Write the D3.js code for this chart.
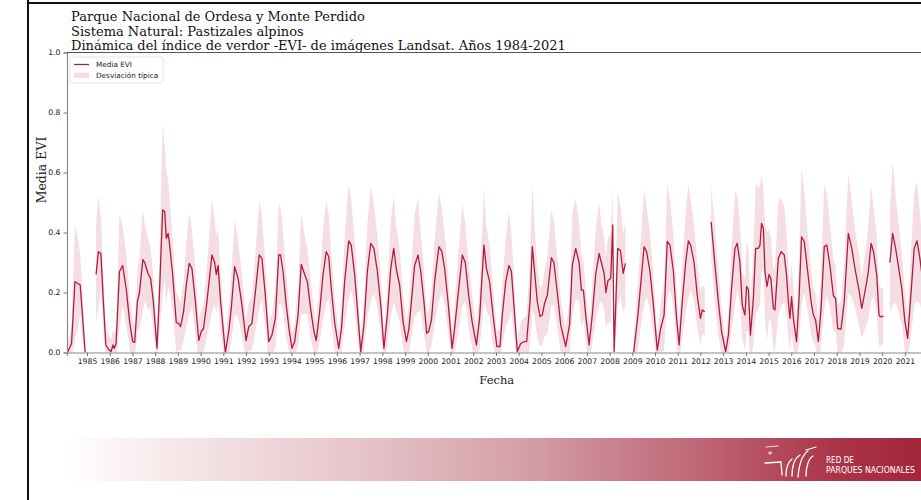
<!DOCTYPE html>
<html>
<head>
<meta charset="utf-8">
<script src="https://cdn.jsdelivr.net/npm/d3@7"></script>
<style>
  body { margin: 0; background: #fff; }
  svg { display: block; }
</style>
</head>
<body>
<div id="chart"></div>
<script>
// Titles
const titulo = [
  'Parque Nacional de Ordesa y Monte Perdido',
  'Sistema Natural: Pastizales alpinos',
  'Dinámica del índice de verdor -EVI- de imágenes Landsat. Años 1984-2021'
];

// Dates as decimal years, null in the series marks a gap
const fechas = [
  1984.14, 1984.32, 1984.47, 1984.60, 1984.70, 1984.80, 1984.92, 1985.15,
  1985.40, 1985.50, 1985.61, 1985.72, 1985.83, 1985.95, 1986.06, 1986.14, 1986.20, 1986.28,
  1986.43, 1986.57, 1986.73, 1986.88, 1987.01, 1987.10, 1987.22, 1987.31, 1987.46, 1987.54,
  1987.68, 1987.80, 1987.92, 1988.08, 1988.18, 1988.33, 1988.42, 1988.49, 1988.57, 1988.62,
  1988.77, 1988.93, 1989.03, 1989.12, 1989.25, 1989.37, 1989.50, 1989.62, 1989.77, 1989.92,
  1990.03, 1990.13, 1990.28, 1990.50, 1990.62, 1990.69, 1990.77, 1990.88, 1991.09, 1991.24,
  1991.35, 1991.50, 1991.65, 1991.82, 1992.00, 1992.12, 1992.26, 1992.41, 1992.58, 1992.70,
  1992.85, 1993.00, 1993.14, 1993.29, 1993.44, 1993.52, 1993.63, 1993.77, 1993.89, 1994.02,
  1994.14, 1994.29, 1994.43, 1994.58, 1994.70, 1994.84, 1994.99, 1995.09, 1995.24, 1995.39,
  1995.53, 1995.64, 1995.75, 1995.90, 1996.08, 1996.20, 1996.34, 1996.52, 1996.63, 1996.78,
  1996.90, 1997.05, 1997.19, 1997.34, 1997.49, 1997.63, 1997.78, 1997.93, 1998.07, 1998.22,
  1998.37, 1998.50, 1998.61, 1998.76, 1998.91, 1999.06, 1999.17, 1999.28, 1999.42, 1999.57,
  1999.69, 1999.83, 1999.95, 2000.04, 2000.16, 2000.30, 2000.49, 2000.62, 2000.74, 2000.89,
  2001.07, 2001.18, 2001.33, 2001.52, 2001.65, 2001.80, 2001.95, 2002.14, 2002.28, 2002.47,
  2002.58, 2002.72, 2002.87, 2003.04, 2003.18, 2003.28, 2003.43, 2003.57, 2003.68, 2003.79,
  2003.94, 2004.09, 2004.23, 2004.35, 2004.50, 2004.60, 2004.70, 2004.82, 2004.94, 2005.04,
  2005.14, 2005.26, 2005.44, 2005.55, 2005.70, 2005.85, 2006.07, 2006.24, 2006.36, 2006.51,
  2006.66, 2006.76, 2006.85, 2006.95, 2007.10, 2007.24, 2007.39, 2007.54, 2007.64, 2007.76,
  2007.84, 2007.93, 2008.05, 2008.14, 2008.20, 2008.36, 2008.48, 2008.60, 2008.70, 2008.85,
  2009.06, 2009.25, 2009.52, 2009.63, 2009.78, 2009.93, 2010.10, 2010.25, 2010.40, 2010.54,
  2010.66, 2010.81, 2010.95, 2011.06, 2011.20, 2011.35, 2011.47, 2011.57, 2011.72, 2011.86,
  2012.00, 2012.08, 2012.19, 2012.32, 2012.47, 2012.64, 2012.79, 2012.93, 2013.11, 2013.23,
  2013.37, 2013.52, 2013.62, 2013.74, 2013.84, 2013.96, 2014.03, 2014.11, 2014.20, 2014.33,
  2014.43, 2014.55, 2014.62, 2014.69, 2014.77, 2014.84, 2014.93, 2015.02, 2015.10, 2015.21,
  2015.28, 2015.43, 2015.55, 2015.69, 2015.79, 2015.87, 2015.94, 2016.01, 2016.09, 2016.23,
  2016.34, 2016.45, 2016.57, 2016.72, 2016.87, 2016.97, 2017.07, 2017.19, 2017.31, 2017.45,
  2017.56, 2017.70, 2017.85, 2017.95, 2018.04, 2018.19, 2018.33, 2018.51, 2018.66, 2018.80,
  2018.98, 2019.10, 2019.21, 2019.32, 2019.39, 2019.51, 2019.62, 2019.76, 2019.86, 2019.90,
  2020.05, 2020.20, 2020.34, 2020.46, 2020.59, 2020.71, 2020.86, 2021.00, 2021.12, 2021.27,
  2021.41, 2021.53, 2021.66, 2021.78, 2021.90
];

const mediaEVI = [
  0.000, 0.030, 0.236, 0.230, 0.225, 0.125, 0.000, null,
  0.260, 0.336, 0.330, 0.170, 0.025, 0.010, 0.003, 0.025, 0.014, 0.030,
  0.270, 0.290, 0.210, 0.100, 0.036, 0.034, 0.170, 0.200, 0.310, 0.300,
  0.264, 0.247, 0.170, 0.014, 0.180, 0.475, 0.470, 0.380, 0.397, 0.370,
  0.260, 0.100, 0.097, 0.086, 0.136, 0.225, 0.297, 0.280, 0.170, 0.040,
  0.070, 0.080, 0.170, 0.325, 0.300, 0.260, 0.290, 0.170, 0.000, 0.070,
  0.147, 0.286, 0.247, 0.158, 0.040, 0.086, 0.097, 0.200, 0.325, 0.314,
  0.190, 0.036, 0.058, 0.114, 0.325, 0.325, 0.270, 0.158, 0.080, 0.014,
  0.036, 0.125, 0.294, 0.260, 0.236, 0.147, 0.070, 0.040, 0.136, 0.260,
  0.336, 0.320, 0.214, 0.100, 0.014, 0.080, 0.236, 0.372, 0.358, 0.260,
  0.147, 0.003, 0.092, 0.270, 0.364, 0.347, 0.270, 0.158, 0.014, 0.125,
  0.280, 0.347, 0.280, 0.225, 0.103, 0.036, 0.080, 0.170, 0.290, 0.325,
  0.270, 0.170, 0.064, 0.070, 0.108, 0.236, 0.353, 0.336, 0.280, 0.170,
  0.014, 0.080, 0.190, 0.325, 0.300, 0.190, 0.103, 0.025, 0.114, 0.358,
  0.280, 0.236, 0.125, 0.020, 0.020, 0.125, 0.236, 0.290, 0.270, 0.158,
  0.003, 0.030, 0.036, 0.036, 0.170, 0.353, 0.270, 0.170, 0.120, 0.125,
  0.164, 0.190, 0.316, 0.300, 0.200, 0.092, 0.020, 0.092, 0.290, 0.347,
  0.300, 0.208, 0.208, 0.125, 0.025, 0.125, 0.260, 0.330, 0.300, 0.264,
  0.200, 0.240, 0.247, 0.425, 0.003, 0.347, 0.340, 0.264, 0.297, null,
  0.000, 0.125, 0.353, 0.336, 0.270, 0.158, 0.008, 0.080, 0.125, 0.370,
  0.358, 0.270, 0.114, 0.025, 0.170, 0.300, 0.372, 0.358, 0.300, 0.190,
  0.114, 0.142, 0.136, null, 0.436, 0.290, 0.170, 0.070, 0.003, 0.058,
  0.214, 0.347, 0.364, 0.300, 0.158, 0.125, 0.220, 0.210, 0.058, 0.180,
  0.347, 0.347, 0.358, 0.430, 0.414, 0.270, 0.220, 0.260, 0.247, 0.147,
  0.142, 0.314, 0.336, 0.325, 0.258, 0.170, 0.114, 0.186, 0.114, 0.036,
  0.180, 0.386, 0.370, 0.270, 0.170, 0.125, 0.108, 0.036, 0.147, 0.353,
  0.358, 0.290, 0.190, 0.180, 0.080, 0.078, 0.170, 0.397, 0.347, 0.280,
  0.208, 0.147, 0.190, 0.236, 0.270, 0.364, 0.336, 0.258, 0.125, 0.120,
  0.120, null, 0.300, 0.397, 0.347, 0.290, 0.214, 0.103, 0.047, 0.200,
  0.347, 0.372, 0.314, 0.240, 0.150
];

const desviacion = [
  0.02, 0.06, 0.19, 0.15, 0.10, 0.08, 0.03, null,
  0.16, 0.19, 0.12, 0.10, 0.06, 0.05, 0.04, 0.05, 0.05, 0.06,
  0.19, 0.13, 0.12, 0.09, 0.07, 0.06, 0.10, 0.12, 0.17, 0.13,
  0.12, 0.10, 0.09, 0.05, 0.12, 0.29, 0.22, 0.22, 0.18, 0.16,
  0.12, 0.10, 0.09, 0.08, 0.10, 0.14, 0.17, 0.13, 0.11, 0.07,
  0.07, 0.08, 0.12, 0.19, 0.14, 0.13, 0.12, 0.10, 0.05, 0.08,
  0.11, 0.16, 0.13, 0.10, 0.07, 0.08, 0.09, 0.13, 0.18, 0.14,
  0.11, 0.07, 0.07, 0.10, 0.17, 0.16, 0.13, 0.11, 0.08, 0.05,
  0.06, 0.10, 0.17, 0.13, 0.11, 0.10, 0.07, 0.06, 0.10, 0.15,
  0.17, 0.14, 0.12, 0.09, 0.05, 0.08, 0.15, 0.19, 0.15, 0.12,
  0.10, 0.04, 0.08, 0.16, 0.19, 0.15, 0.12, 0.10, 0.05, 0.10,
  0.16, 0.18, 0.14, 0.12, 0.09, 0.06, 0.08, 0.12, 0.17, 0.19,
  0.13, 0.11, 0.07, 0.07, 0.09, 0.14, 0.18, 0.14, 0.12, 0.10,
  0.05, 0.08, 0.13, 0.17, 0.13, 0.11, 0.09, 0.06, 0.10, 0.19,
  0.14, 0.12, 0.10, 0.05, 0.06, 0.10, 0.15, 0.18, 0.13, 0.10,
  0.04, 0.07, 0.08, 0.09, 0.14, 0.21, 0.15, 0.12, 0.10, 0.10,
  0.11, 0.13, 0.16, 0.14, 0.12, 0.09, 0.06, 0.09, 0.17, 0.17,
  0.13, 0.12, 0.10, 0.09, 0.06, 0.10, 0.15, 0.17, 0.13, 0.12,
  0.12, 0.14, 0.15, 0.13, 0.04, 0.19, 0.15, 0.13, 0.14, null,
  0.05, 0.11, 0.19, 0.15, 0.13, 0.10, 0.05, 0.08, 0.12, 0.19,
  0.15, 0.12, 0.09, 0.06, 0.12, 0.17, 0.19, 0.15, 0.13, 0.11,
  0.09, 0.08, 0.08, null, 0.12, 0.13, 0.11, 0.08, 0.04, 0.07,
  0.14, 0.19, 0.16, 0.13, 0.11, 0.12, 0.15, 0.14, 0.10, 0.15,
  0.22, 0.20, 0.20, 0.16, 0.14, 0.16, 0.18, 0.15, 0.14, 0.13,
  0.14, 0.19, 0.18, 0.16, 0.14, 0.12, 0.11, 0.12, 0.10, 0.07,
  0.14, 0.23, 0.17, 0.13, 0.11, 0.09, 0.09, 0.07, 0.12, 0.21,
  0.17, 0.14, 0.12, 0.11, 0.08, 0.09, 0.14, 0.20, 0.16, 0.13,
  0.12, 0.10, 0.12, 0.14, 0.16, 0.19, 0.15, 0.13, 0.10, 0.10,
  0.09, null, 0.17, 0.24, 0.18, 0.15, 0.12, 0.10, 0.07, 0.14,
  0.19, 0.20, 0.15, 0.12, 0.10
];

// Tick labels
const anios = [1985, 1986, 1987, 1988, 1989, 1990, 1991, 1992, 1993, 1994, 1995, 1996,
  1997, 1998, 1999, 2000, 2001, 2002, 2003, 2004, 2005, 2006, 2007, 2008, 2009, 2010,
  2011, 2012, 2013, 2014, 2015, 2016, 2017, 2018, 2019, 2020, 2021];
const yTicks = [0, 0.2, 0.4, 0.6, 0.8, 1.0];

const W = 921, H = 500;
const margin = { top: 52.5, left: 67 };
const plotW = 859.5, plotH = 300;
const colorLinea = '#b01c3e';
const serif = 'DejaVu Serif';
const sans = 'DejaVu Sans';

const svg = d3.select('#chart')
  .append('svg')
  .attr('width', W)
  .attr('height', H);

// Screenshot frame
svg.append('line').attr('x1', 28).attr('x2', 28).attr('y1', 0).attr('y2', H)
  .attr('stroke', '#111').attr('stroke-width', 2);
svg.append('line').attr('x1', 28).attr('x2', W).attr('y1', 3).attr('y2', 3)
  .attr('stroke', '#111').attr('stroke-width', 2);

// Titles
svg.selectAll('.titulo')
  .data(titulo)
  .enter()
  .append('text')
  .attr('class', 'titulo')
  .attr('x', 71)
  .attr('y', (d, i) => 21 + i * 14.6)
  .style('font-family', serif)
  .style('font-size', '13px')
  .attr('fill', '#111')
  .text(d => d);

const g = svg.append('g')
  .attr('transform', `translate(${margin.left},${margin.top})`);

const x = d3.scaleLinear().domain([1984.12, 2021.95]).range([0, plotW]);
const y = d3.scaleLinear().domain([0, 1]).range([plotH, 0]);

g.append('clipPath').attr('id', 'clip')
  .append('rect').attr('width', plotW).attr('height', plotH);

const datos = fechas.map((f, i) => ({ f, m: mediaEVI[i], s: desviacion[i] }));

// Standard deviation band
const banda = d3.area()
  .defined(d => d.m !== null)
  .x(d => x(d.f))
  .y0(d => y(d.m - d.s))
  .y1(d => y(d.m + d.s));

g.append('path')
  .datum(datos)
  .attr('clip-path', 'url(#clip)')
  .attr('fill', '#c8506a')
  .attr('fill-opacity', 0.19)
  .attr('d', banda);

// Mean line
const linea = d3.line()
  .defined(d => d.m !== null)
  .x(d => x(d.f))
  .y(d => y(d.m));

g.append('path')
  .datum(datos)
  .attr('clip-path', 'url(#clip)')
  .attr('fill', 'none')
  .attr('stroke', colorLinea)
  .attr('stroke-width', 1.3)
  .attr('stroke-linejoin', 'round')
  .attr('d', linea);

// Axes
const ejeX = g.append('g')
  .attr('transform', `translate(0,${plotH})`)
  .call(d3.axisBottom(x).tickValues(anios).tickFormat(d3.format('d')).tickSize(3.5).tickPadding(3));
const ejeY = g.append('g')
  .call(d3.axisLeft(y).tickValues(yTicks).tickFormat(d3.format('.1f')).tickSize(3.5).tickPadding(3));

[ejeX, ejeY].forEach(eje => {
  eje.select('.domain').attr('stroke', '#8a8a8a').attr('stroke-width', 1.2);
  eje.selectAll('.tick line').attr('stroke', '#777');
  eje.selectAll('.tick text')
    .style('font-family', sans)
    .style('font-size', '7.7px')
    .attr('fill', '#222');
});

// top spine
g.append('line').attr('x1', 0).attr('x2', plotW).attr('y1', 0).attr('y2', 0)
  .attr('stroke', '#555').attr('stroke-width', 1.2);

// Axis labels
g.append('text')
  .attr('x', plotW / 2)
  .attr('y', plotH + 31)
  .attr('text-anchor', 'middle')
  .style('font-family', serif)
  .style('font-size', '11.5px')
  .attr('fill', '#222')
  .text('Fecha');

g.append('text')
  .attr('transform', 'rotate(-90)')
  .attr('x', -(170 - margin.top))
  .attr('y', -21)
  .attr('text-anchor', 'middle')
  .style('font-family', serif)
  .style('font-size', '12.5px')
  .attr('fill', '#222')
  .text('Media EVI');

// Legend
const leg = g.append('g').attr('transform', 'translate(3,4.5)');
leg.append('rect')
  .attr('width', 93).attr('height', 26).attr('rx', 2)
  .attr('fill', '#fff').attr('stroke', '#ddd').attr('stroke-width', 0.8);
leg.append('line').attr('x1', 4).attr('x2', 19).attr('y1', 7.5).attr('y2', 7.5)
  .attr('stroke', colorLinea).attr('stroke-width', 1.3);
leg.append('rect').attr('x', 4).attr('y', 15.5).attr('width', 15).attr('height', 5.5)
  .attr('fill', '#c8506a').attr('fill-opacity', 0.19);
leg.selectAll('.leg-text')
  .data(['Media EVI', 'Desviación típica'])
  .enter()
  .append('text')
  .attr('x', 26)
  .attr('y', (d, i) => 10 + i * 10.5)
  .style('font-family', sans)
  .style('font-size', '7.3px')
  .attr('fill', '#222')
  .text(d => d);

// Bottom banner
const grad = svg.append('defs').append('linearGradient')
  .attr('id', 'banda-roja').attr('x1', '0%').attr('x2', '100%');
[['0%', '#ffffff'], ['10%', '#f8eced'], ['35%', '#e6c3c9'], ['55%', '#d39ca5'],
 ['75%', '#bd6373'], ['90%', '#ab3447'], ['100%', '#a3263a']]
  .forEach(s => grad.append('stop').attr('offset', s[0]).attr('stop-color', s[1]));

svg.append('rect')
  .attr('x', 65).attr('y', 438).attr('width', W - 65).attr('height', 43)
  .attr('fill', 'url(#banda-roja)');

// Logo
const logo = svg.append('g')
  .attr('fill', 'none').attr('stroke', '#fff').attr('stroke-width', 1.3)
  .attr('stroke-linecap', 'round');
logo.append('path').attr('d', 'M765,463 L781,462 L782,475');
logo.append('path').attr('d', 'M786,476 C786,468 788,462 792,459');
logo.append('path').attr('d', 'M792,476 C792,466 795,458 800,455');
logo.append('path').attr('d', 'M798,477 C799,465 802,455 808,451');
logo.append('path').attr('d', 'M806,476 C806,466 809,458 813,456');
logo.append('path').attr('d', 'M806,450 L816,447');
logo.append('path').attr('d', 'M766,447 L778,446').attr('stroke-width', 0.8);
logo.append('circle').attr('cx', 770).attr('cy', 453).attr('r', 1.2).attr('stroke-width', 0.8);

svg.selectAll('.red')
  .data(['RED DE', 'PARQUES NACIONALES'])
  .enter()
  .append('text')
  .attr('x', 826)
  .attr('y', (d, i) => 463 + i * 10)
  .attr('textLength', (d, i) => i ? 89 : 28)
  .attr('lengthAdjust', 'spacingAndGlyphs')
  .style('font-family', sans)
  .style('font-size', '8.5px')
  .attr('fill', '#fff')
  .text(d => d);
</script>
</body>
</html>
